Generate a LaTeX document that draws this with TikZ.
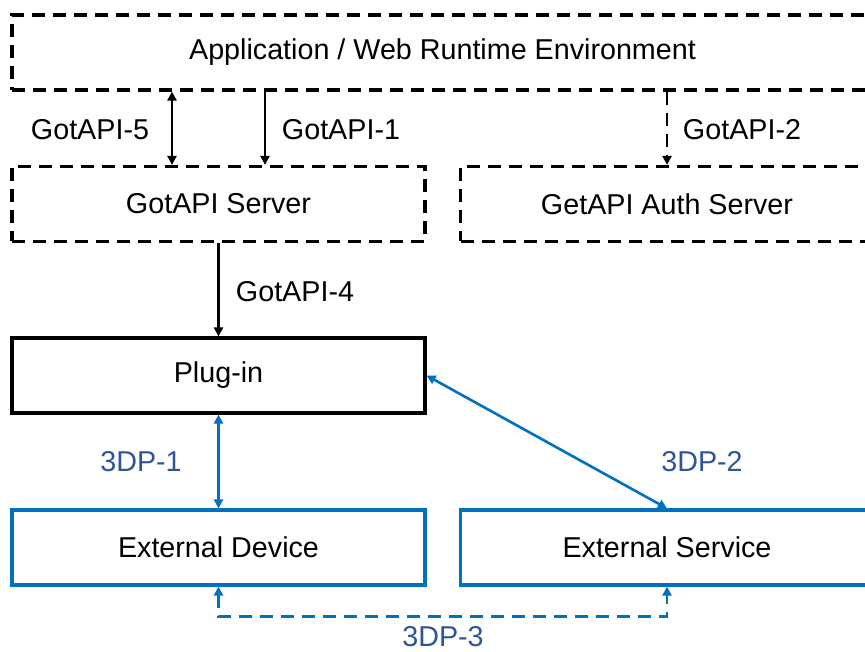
\documentclass[tikz,border=0pt]{standalone}
\usepackage{fontspec}
\setmainfont{Liberation Sans}
\usetikzlibrary{arrows.meta}
\definecolor{extblue}{RGB}{0,112,192}
\definecolor{lblblue}{RGB}{47,85,151}
\tikzset{
  blk/.style={draw, line width=3.2pt, minimum width=413pt, minimum height=75pt,
    inner sep=0pt, font=\fontsize{28.7}{34}\selectfont},
  dsh/.style={blk, dash pattern=on 13pt off 8pt},
  ext/.style={blk, draw=extblue},
  con/.style={line width=2.6pt, -{Triangle[length=9pt,width=9pt]}},
  dcon/.style={con, {Triangle[length=9pt,width=9pt]}-{Triangle[length=9pt,width=9pt]}},
  lbl/.style={font=\fontsize{28.7}{34}\selectfont},
  blbl/.style={lbl, text=lblblue}
}
\begin{document}
\begin{tikzpicture}[x=1pt,y=-1pt]

	\useasboundingbox[fill=white] (0,0) rectangle (865,652);

	\node[dsh, minimum width=861pt] (app) at (442.5,52.5) {Application / Web Runtime Environment};
	\node[dsh] (srv) at (218.5,204) {GotAPI Server};
	\node[dsh] (auth) at (667,204) {GetAPI Auth Server};
	\node[blk] (plug) at (218.5,375.5) {Plug-in};
	\node[ext] (dev) at (218.5,547.5) {External Device};
	\node[ext] (svc) at (667,547.5) {External Service};

	\coordinate (g5) at (172,0); \coordinate (g1) at (265,0);

	\draw[dcon] (g5 |- app.south) -- (g5 |- srv.north);
	\draw[con] (g1 |- app.south) -- (g1 |- srv.north);
	\draw[con, dash pattern=on 13pt off 8pt] (auth.north |- app.south) -- (auth.north);
	\draw[con] (srv.south) -- (plug.north);
	\draw[dcon, draw=extblue] (plug.south) -- (dev.north);
	\draw[dcon, draw=extblue] (plug.east) -- (svc.north);
	\draw[dcon, draw=extblue, dash pattern=on 13pt off 8pt]
	  (dev.south) -- ++(0,30) -| (svc.south);

	\node[lbl] (l5) at (90,130) {GotAPI-5};
	\node[lbl] (l1) at (341,130) {GotAPI-1};
	\node[lbl] (l2) at (742,130) {GotAPI-2};
	\node[lbl] (l4) at (295,292) {GotAPI-4};
	\node[blbl] (d1) at (141,462) {3DP-1};
	\node[blbl] (d2) at (702,462) {3DP-2};
	\node[blbl] (d3) at (443,637) {3DP-3};
\end{tikzpicture}
\end{document}
